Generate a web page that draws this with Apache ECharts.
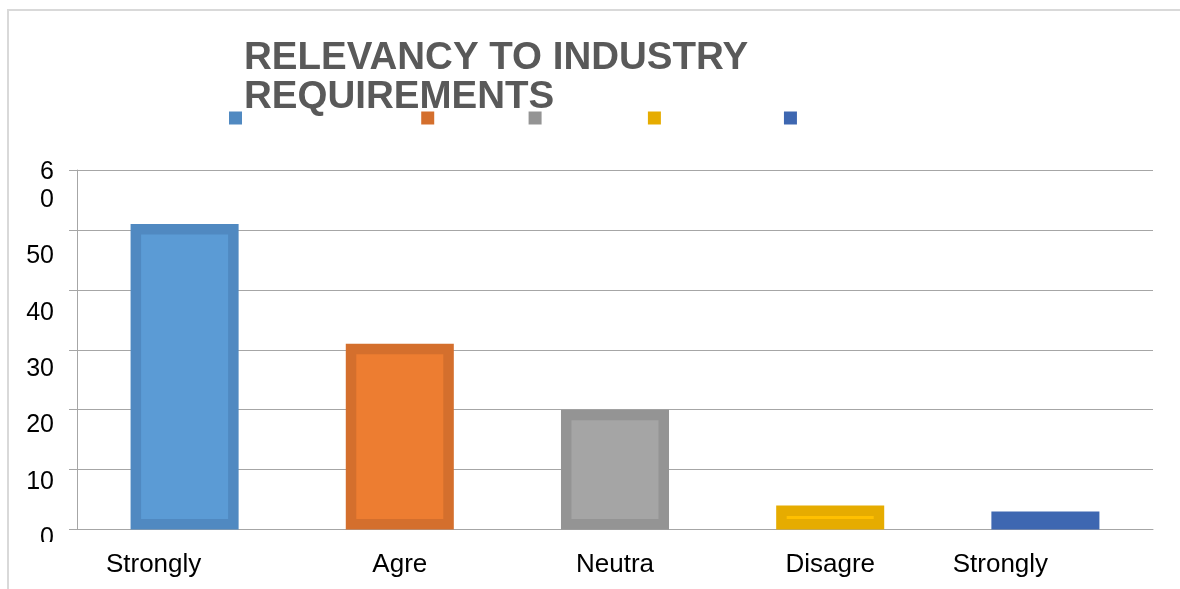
<!DOCTYPE html>
<html>
<head>
<meta charset="utf-8">
<script src="https://cdn.jsdelivr.net/npm/echarts@6/dist/echarts.min.js"></script>
<style>
  html, body { margin: 0; padding: 0; background: #fff; }
  #chart { width: 1180px; height: 589px; }
</style>
</head>
<body>
<div id="chart"></div>
<script>
const categories = ['Strongly', 'Agre', 'Neutra', 'Disagre', 'Strongly']
const legendNames = ['Strongly Agree', 'Agree', 'Neutral', 'Disagree', 'Strongly Disagree']
const values = [51, 31, 20, 4, 3]
const yTickLabels = ['0', '10', '20', '30', '40', '50', '6\n0']

const outerColors = ['#5089c1', '#d46f2d', '#949494', '#e6ac00', '#3e67b1']
const innerColors = ['#5b9bd5', '#ed7d31', '#a5a5a5', '#ffc000', '#4472c4']

const font = "'Liberation Sans', Arial, sans-serif"
const gridColor = '#a6a6a6'
const border = 10.5

const chart = echarts.init(document.getElementById('chart'))

// bar with a thick darker frame, like the excel style
const renderBar = (params, api) => {
  const i = params.seriesIndex
  const top = api.coord([api.value(0), api.value(1)])
  const base = api.coord([api.value(0), 0])
  const w = api.size([1, 0])[0] * 0.502
  const h = base[1] - top[1]
  const children = [
    {
      type: 'rect',
      shape: { x: top[0] - w / 2, y: top[1], width: w, height: h },
      style: { fill: outerColors[i] },
    },
  ]
  if (h > border * 2) {
    children.push({
      type: 'rect',
      shape: { x: top[0] - w / 2 + border, y: top[1] + border, width: w - border * 2, height: h - border * 2 },
      style: { fill: innerColors[i] },
    })
  }
  return { type: 'group', children }
}

const option = {
  animation: false,
  backgroundColor: '#fff',
  title: {
    text: 'RELEVANCY TO INDUSTRY\nREQUIREMENTS',
    left: 244,
    top: 39,
    padding: 0,
    textStyle: { fontSize: 38.5, fontWeight: 'bold', color: '#595959', lineHeight: 39, fontFamily: font },
  },
  legend: {
    left: 229,
    top: 107,
    padding: 0,
    itemWidth: 13,
    itemHeight: 13,
    itemGap: 32,
    icon: 'rect',
    data: legendNames,
    textStyle: { fontSize: 21.5, color: 'rgba(0,0,0,0)', fontFamily: font },
  },
  grid: [
    { left: 77, right: 27, top: 170, bottom: 59.5 },
    // labels sit on their own slightly tighter scale
    { left: 77, right: 27, top: 214, bottom: 36.6 },
  ],
  xAxis: [
    {
      type: 'category',
      gridIndex: 0,
      data: categories,
      axisLine: { lineStyle: { color: gridColor } },
      axisTick: { length: 8, lineStyle: { color: gridColor } },
      axisLabel: {
        interval: 0,
        margin: 22,
        fontSize: 26,
        color: '#000',
        fontFamily: font,
        formatter: (v, idx) => {
          if (idx === 0) return '{first|' + v + '}'
          if (idx === categories.length - 1) return '{last|' + v + '}'
          return v
        },
        rich: {
          first: { fontSize: 26, color: '#000', fontFamily: font, padding: [0, 62, 0, 0] },
          last: { fontSize: 26, color: '#000', fontFamily: font, padding: [0, 90, 0, 0] },
        },
      },
    },
    { type: 'value', gridIndex: 1, show: false },
  ],
  yAxis: [
    {
      type: 'value',
      gridIndex: 0,
      min: 0,
      max: 60,
      interval: 10,
      axisLine: { show: true, lineStyle: { color: gridColor } },
      axisTick: { show: true, length: 8, lineStyle: { color: gridColor } },
      axisLabel: { show: false },
      splitLine: { lineStyle: { color: gridColor } },
    },
    {
      type: 'value',
      gridIndex: 1,
      min: 0,
      max: 60,
      interval: 10,
      axisLine: { show: false },
      axisTick: { show: false },
      splitLine: { show: false },
      axisLabel: {
        margin: 23,
        fontSize: 25,
        lineHeight: 28,
        verticalAlign: 'bottom',
        color: '#000',
        fontFamily: font,
        formatter: (v) => yTickLabels[Math.round(v / 10)],
      },
    },
  ],
  series: legendNames.map((name, i) => ({
    name,
    type: 'custom',
    xAxisIndex: 0,
    yAxisIndex: 0,
    itemStyle: { color: outerColors[i] },
    encode: { x: 0, y: 1 },
    data: [[i, values[i]]],
    renderItem: renderBar,
  })),
  graphic: [
    {
      type: 'rect',
      z: 100,
      silent: true,
      shape: { x: 8, y: 10, width: 1200, height: 620 },
      style: { fill: 'none', stroke: '#d9d9d9', lineWidth: 2 },
    },
    // the lowest tick label is cut off in the original
    {
      type: 'rect',
      z: 100,
      silent: true,
      shape: { x: 20, y: 542, width: 50, height: 20 },
      style: { fill: '#fff' },
    },
  ],
}

chart.setOption(option)
</script>
</body>
</html>
